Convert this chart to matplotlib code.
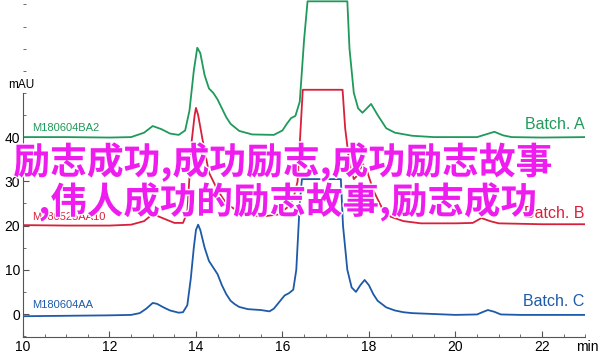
import matplotlib
matplotlib.use("Agg")
import matplotlib.pyplot as plt
import matplotlib.patheffects as pe
from matplotlib.ticker import MultipleLocator

plt.rcParams["font.family"] = ["Liberation Sans", "DejaVu Sans"]

# Batch A (green), values relative to its 40 mAU offset
t_a = [10.0, 11.0, 12.0, 12.5, 12.8, 13.0, 13.2, 13.4, 13.6, 13.75, 13.85, 13.95, 14.03,
       14.1, 14.2, 14.3, 14.4, 14.5, 14.6, 14.7, 14.8, 15.0, 15.3, 15.8, 16.0, 16.1,
       16.2, 16.3, 16.4, 16.5, 16.58, 17.5, 17.55, 17.65, 17.75, 17.85, 17.95, 18.05,
       18.2, 18.4, 18.6, 19.0, 19.5, 20.5, 20.7, 20.9, 21.1, 21.3, 22.0, 23.0]
v_a = [0.0, 0.0, -0.1, 0.0, 1.0, 2.5, 1.8, 0.8, 0.5, 1.5, 6.0, 15.0, 20.2,
       19.0, 14.0, 11.0, 10.0, 8.5, 6.5, 4.5, 3.0, 1.4, 0.6, 0.5, 1.5, 3.0,
       4.3, 4.8, 8.0, 22.0, 30.7, 30.7, 20.0, 10.0, 6.5, 5.5, 6.5, 7.5,
       5.0, 2.0, 1.0, 0.3, 0.0, 0.0, 0.6, 1.2, 0.4, 0.0, -0.1, 0.0]

# Batch B (red), relative to 20 mAU
t_b = [10.0, 11.0, 12.0, 12.5, 12.8, 13.0, 13.2, 13.5, 13.7, 13.8, 13.9, 13.97, 14.0,
       14.05, 14.16, 14.3, 14.5, 14.7, 15.0, 15.5, 15.9, 16.1, 16.25, 16.35, 16.42, 16.47,
       17.39, 17.45, 17.55, 17.65, 17.75, 17.85, 17.95, 18.1, 18.3, 18.5, 18.8, 19.2,
       20.0, 20.4, 20.6, 20.8, 21.0, 22.0, 23.0]
v_b = [0.1, 0.0, 0.0, 0.2, 1.0, 2.6, 1.8, 0.6, 0.6, 3.0, 19.0, 25.0, 26.6,
       25.0, 19.0, 12.0, 8.0, 5.0, 3.0, 2.0, 2.5, 4.0, 6.0, 10.0, 22.0, 30.7,
       30.7, 22.0, 14.0, 10.5, 11.5, 14.0, 12.5, 8.0, 4.0, 2.0, 1.0, 0.5,
       0.5, 0.6, 1.7, 1.0, 0.5, 0.3, 0.3]

# Batch C (blue), relative to 0 mAU
t_c = [10.0, 11.0, 12.0, 12.5, 12.7, 12.85, 13.0, 13.1, 13.25, 13.4, 13.6, 13.7, 13.8,
       13.88, 13.95, 14.0, 14.05, 14.1, 14.2, 14.3, 14.4, 14.5, 14.6, 14.7, 14.8, 14.9,
       15.0, 15.2, 15.5, 15.7, 15.8, 15.95, 16.05, 16.15, 16.25, 16.32, 16.4, 16.45,
       17.35, 17.4, 17.5, 17.6, 17.7, 17.8, 17.9, 18.0, 18.1, 18.2, 18.4, 18.6, 18.8,
       19.0, 19.5, 20.0, 20.5, 20.62, 20.75, 20.9, 21.05, 21.5, 22.0, 23.0]
v_c = [-0.5, -0.4, -0.3, -0.2, 0.2, 1.2, 2.5, 2.3, 1.5, 0.8, 0.3, 0.4, 2.0,
       8.0, 15.0, 19.0, 20.2, 19.0, 15.0, 12.0, 10.5, 9.0, 6.5, 4.5, 3.0, 2.2,
       1.6, 1.1, 0.9, 0.6, 1.2, 3.0, 4.2, 4.7, 5.5, 10.0, 25.0, 30.5,
       30.5, 20.0, 10.0, 6.0, 5.0, 6.5, 7.7, 6.5, 4.5, 3.0, 1.5, 0.8, 0.4,
       0.2, 0.0, -0.2, -0.1, 0.4, 0.9, 0.5, -0.1, -0.2, -0.2, -0.2]

offsets = [40, 20, 0]
sample_ids = ["M180604BA2", "M180525AA10", "M180604AA"]
batch_names = ["Batch. A", "Batch. B", "Batch. C"]
colors = ["#1f9a5a", "#d8203c", "#1d5aa8"]

overlay_lines = ["励志成功,成功励志,成功励志故事", ",伟人成功的励志故事,励志成功"]

fig = plt.figure(figsize=(6.0, 3.53), dpi=100)
ax = fig.add_axes([0.0383, 0.0453, 0.937, 0.9547])

for t, v, off, c in zip([t_a, t_b, t_c], [v_a, v_b, v_c], offsets, colors):
    ax.plot(t, [x + off for x in v], color=c, lw=1.3)

for off, sid, name, c in zip(offsets, sample_ids, batch_names, colors):
    ax.text(10.2, off + 2.0, sid, color=c, fontsize=8, va="center", ha="left")
    ax.text(22.98, off + 2.8, name, color=c, fontsize=11.5, va="center", ha="right")

ax.set_xlim(10, 23)
ax.set_ylim(-5.2, 71.0)
for s in ["top", "right"]:
    ax.spines[s].set_visible(False)
ax.spines["left"].set_bounds(-5.2, 50)
ax.spines["left"].set_color("#555555")
ax.spines["bottom"].set_color("#555555")

ax.set_xticks([10, 12, 14, 16, 18, 20, 22])
ax.xaxis.set_minor_locator(MultipleLocator(0.5))
ax.set_yticks([0, 10, 20, 30, 40])
ax.yaxis.set_minor_locator(MultipleLocator(5))
ax.tick_params(which="both", direction="in", labelsize=10, pad=2, colors="#555555",
               labelcolor="black")
ax.tick_params(which="major", length=4)
ax.tick_params(which="minor", length=2.5)

fig.text(0.013, 0.76, "mAU", fontsize=8.5, va="center", ha="left")
fig.text(0.998, 0.017, "min", fontsize=10, va="center", ha="right")

halo = [pe.withStroke(linewidth=2, foreground="white")]
fig.text(0.022, 0.541, overlay_lines[0], fontsize=26.5, color="#ee1cee", fontweight="bold",
         family=["Noto Sans CJK SC", "DejaVu Sans"], va="center", ha="left",
         path_effects=halo)
fig.text(0.064, 0.428, overlay_lines[1], fontsize=26.3, color="#ee1cee", fontweight="bold",
         family=["Noto Sans CJK SC", "DejaVu Sans"], va="center", ha="left",
         path_effects=halo)

fig.savefig("out.png", dpi=100)
